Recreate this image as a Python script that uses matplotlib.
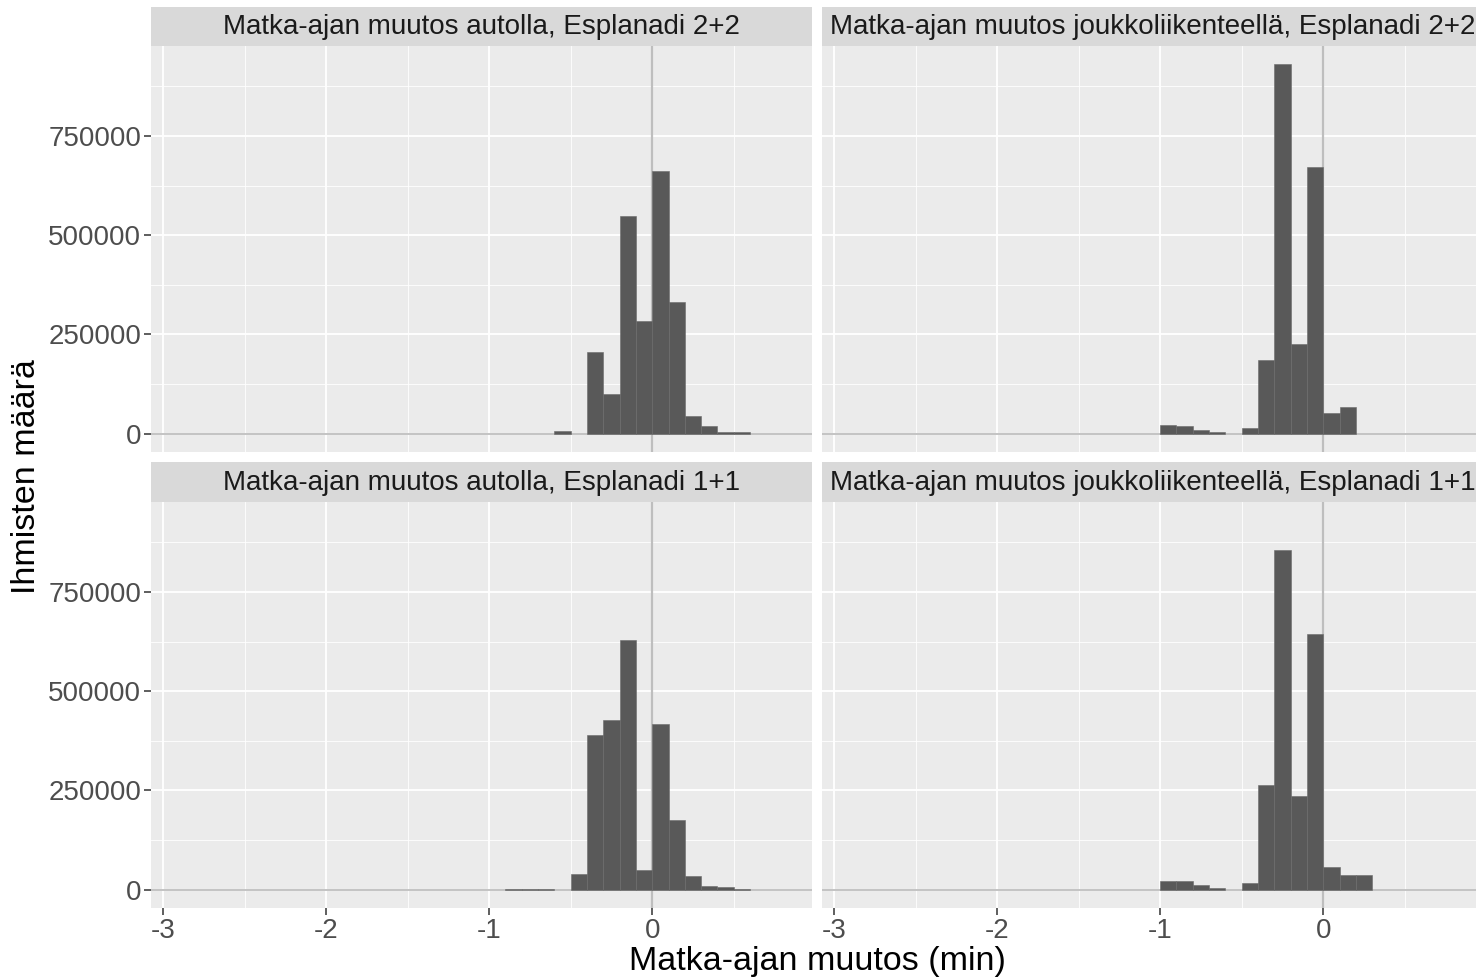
import matplotlib
matplotlib.use('Agg')
import matplotlib.pyplot as plt
import numpy as np

plt.rcParams['font.family'] = ['Liberation Sans', 'DejaVu Sans']

# bin left edges, width 0.1 min
bin_left = [-1.0, -0.9, -0.8, -0.7, -0.6, -0.5, -0.4, -0.3, -0.2, -0.1,
            0.0, 0.1, 0.2, 0.3, 0.4, 0.5]
bin_width = 0.1

auto_22 = [0, 0, 0, 0, 6000, 0, 206000, 100000, 548000, 284000,
           661000, 332000, 44500, 20000, 5000, 3000]
jl_22 = [21000, 20000, 10000, 3500, 0, 15000, 185000, 930000, 226000, 671000,
         52000, 67000, 0, 0, 0, 0]
auto_11 = [0, 1500, 2000, 2500, 0, 38000, 390000, 427000, 629000, 50000,
           417000, 175000, 35000, 10000, 6500, 1500]
jl_11 = [22000, 21000, 12000, 5000, 0, 17500, 264000, 856000, 235000, 645000,
         57000, 36000, 37000, 0, 0, 0]

titles = ['Matka-ajan muutos autolla, Esplanadi 2+2',
          'Matka-ajan muutos joukkoliikenteellä, Esplanadi 2+2',
          'Matka-ajan muutos autolla, Esplanadi 1+1',
          'Matka-ajan muutos joukkoliikenteellä, Esplanadi 1+1']
panels = [auto_22, jl_22, auto_11, jl_11]

x_ticks = [-3, -2, -1, 0]
y_ticks = [0, 250000, 500000, 750000]
ymax = 930000

W, H = 1476, 980
fig = plt.figure(figsize=(W / 100, H / 100), dpi=100)
fig.patch.set_facecolor('white')

# panel boxes in pixels
px_cols = [(151, 812), (822, 1483)]
px_rows = [(46, 452, 7), (502, 908, 462)]

edges = np.array(bin_left)
for i, (counts, title) in enumerate(zip(panels, titles)):
    r, c = divmod(i, 2)
    x0, x1 = px_cols[c]
    y0, y1, st = px_rows[r]
    ax = fig.add_axes([x0 / W, 1 - y1 / H, (x1 - x0) / W, (y1 - y0) / H])
    ax.set_facecolor('#EBEBEB')
    for s in ax.spines.values():
        s.set_visible(False)
    ax.set_xlim(-3.074, 0.98)
    ax.set_ylim(-0.05 * ymax, 1.05 * ymax)
    ax.set_xticks(x_ticks)
    ax.set_xticks([-2.5, -1.5, -0.5, 0.5], minor=True)
    ax.set_yticks(y_ticks)
    ax.set_yticks([125000, 375000, 625000, 875000], minor=True)
    ax.grid(True, which='major', color='white', linewidth=1.3)
    ax.grid(True, which='minor', color='white', linewidth=0.6)
    ax.set_axisbelow(True)
    ax.tick_params(which='minor', length=0)
    ax.tick_params(which='major', length=5, width=1.1, color='#333333',
                   labelsize=20, labelcolor='#4D4D4D', pad=2)
    ax.axhline(0, color='#BEBEBE', linewidth=1.3, zorder=1)
    ax.axvline(0, color='#BEBEBE', linewidth=1.6, zorder=1)
    cnt = np.array(counts)
    keep = cnt > 0
    ax.bar(edges[keep], cnt[keep], width=bin_width, align='edge',
           color='#595959', edgecolor='#6a6a6a', linewidth=0.4, zorder=2)
    ax.set_yticklabels([str(v) for v in y_ticks])
    ax.set_xticklabels([str(v) for v in x_ticks])
    if c == 1:
        ax.tick_params(axis='y', left=False, labelleft=False)
    if r == 0:
        ax.tick_params(axis='x', bottom=False, labelbottom=False)

    sax = fig.add_axes([x0 / W, 1 - y0 / H, (x1 - x0) / W, (y0 - st) / H])
    sax.set_facecolor('#D9D9D9')
    sax.set_xticks([])
    sax.set_yticks([])
    for s in sax.spines.values():
        s.set_visible(False)
    sax.text(0.5, 0.48, title, ha='center', va='center', fontsize=20,
             color='#1A1A1A', transform=sax.transAxes)

fig.text(817 / W, 1 - 961 / H, 'Matka-ajan muutos (min)', ha='center',
         va='center', fontsize=24.5, color='black')
fig.text(27 / W, 1 - 477 / H, 'Ihmisten määrä', ha='center', va='center',
         rotation=90, fontsize=24.5, color='black')

fig.savefig('out.png', dpi=100, facecolor='white')
